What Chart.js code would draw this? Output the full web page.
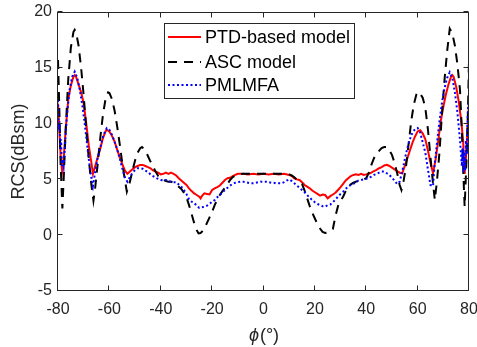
<!DOCTYPE html>
<html><head><meta charset="utf-8">
<script src="https://cdn.jsdelivr.net/npm/chart.js@4.4.1/dist/chart.umd.min.js"></script>
<style>html,body{margin:0;padding:0;background:#fff}canvas{display:block}</style>
</head><body>
<canvas id="c" width="477" height="347"></canvas>
<script>
// ---- data ----
const seriesNames = ['PTD-based model', 'ASC model', 'PMLMFA'];
const xTicks = [-80, -60, -40, -20, 0, 20, 40, 60, 80];
const yTicks = [-5, 0, 5, 10, 15, 20];

const ptdX = [-80,-79.5,-79,-78.4,-77.8,-77,-76,-75,-74,-73.5,-73,-72,-71,-70,-69,-68,-67,-66.4,-65.5,-64.5,-63.5,-62.5,-61.5,-61,-60,-59,-58,-57,-56,-55,-54,-53,-52,-51,-50,-49,-48,-47,-46,-45,-44,-43,-42,-41,-40,-39,-38,-37,-36,-35,-34,-33,-32,-31,-30,-29,-28,-27,-26,-25,-24.5,-24,-23,-22,-21,-20,-19,-18,-17,-16,-15,-14,-13,-12,-11,-10,-8,-6,-4,-2,0,2,4,6,8,10,11,12,13,14,15,16,17,18,19,20,21,22,23,24,25,26,27,28,29,30,31,32,33,34,35,36,37,38,39,40,41,42,43,44,45,46,47,48,49,50,51,52,53,54,55,56,57,58,59,60,61,62,63,64,65,66,67,68,69,70,71,72,73,73.5,74,75,76,77,77.7,78.3,79,79.5,80];
const ptdY = [11.8,9.5,7.2,5.7,6.8,9.5,12.2,13.4,14.2,14.35,14.2,13.5,12.8,11.8,10.0,8.0,6.5,5.5,6.2,7.0,7.8,8.7,9.3,9.45,9.3,8.9,8.4,7.7,7.0,6.4,5.8,5.5,5.7,5.9,6.1,6.2,6.3,6.3,6.2,6.1,6.0,5.8,5.7,5.6,5.45,5.5,5.6,5.5,5.6,5.5,5.35,5.1,4.9,4.7,4.5,4.2,3.95,3.75,3.6,3.45,3.3,3.5,3.75,3.7,3.65,4.05,4.2,4.3,4.45,4.7,4.95,5.1,5.15,5.3,5.4,5.5,5.5,5.45,5.5,5.45,5.5,5.45,5.5,5.45,5.5,5.4,5.3,5.1,5.0,4.95,4.75,4.5,4.35,4.2,4.0,3.85,3.7,3.55,3.65,3.6,3.3,3.5,3.65,3.8,4.05,4.3,4.6,4.9,5.1,5.3,5.4,5.45,5.4,5.5,5.4,5.45,5.5,5.6,5.75,5.85,6.0,6.1,6.25,6.3,6.2,6.05,5.9,5.75,5.6,5.55,6.2,6.9,7.6,8.3,8.85,9.3,9.4,9.1,8.6,7.6,6.5,5.55,6.8,8.4,10.2,11.5,12.6,13.5,14.2,14.35,14.2,13.3,12.0,10.2,8.5,5.5,7.5,9.8,12.0];

const ascX = [-80,-79.5,-79,-78.3,-77.7,-77,-76,-75,-74,-73.5,-73,-72,-71,-70,-69,-68,-67,-66.2,-65.5,-64.5,-63.5,-62.5,-61.5,-60.5,-60,-59,-58,-57,-56,-55,-54,-53.2,-52,-51,-50,-49,-48,-47.3,-46,-45,-44,-43,-42,-41,-40,-39,-38,-37,-36,-35,-34,-33,-32,-31,-30,-29,-28,-27,-26,-25.3,-24.5,-24,-23,-22,-21,-20,-19,-18,-17,-16,-15,-14,-13,-12,-11,-10,-8,-6,-4,-2,0,2,4,6,8,10,11,12,13,14,15,16,17,18,19,20,21,22,23,24,25,26,27,28,29,30,31,32,33,34,35,36,37,38,39,40,41,42,43,44,45,46,47,48,49,50,51,52,53,53.7,54.5,55.5,56.5,57.5,58.5,59.5,60.2,61,62,63,64,65,66,66.7,67.5,68.5,69.5,70.5,71.5,72.5,73.5,74.5,75.5,76.5,77.2,77.8,78.3,79,79.6,80];
const ascY = [15.7,11.5,6.5,2.4,5.5,9.5,14.0,16.8,18.2,18.4,18.2,17.0,15.0,12.5,9.5,6.8,4.5,3.1,4.3,6.5,8.8,10.8,12.2,12.8,12.75,12.2,11.2,9.8,8.2,6.5,5.0,3.9,4.8,5.8,6.7,7.4,7.8,7.9,7.6,7.1,6.6,6.15,5.7,5.3,5.0,4.95,4.85,4.8,4.8,4.7,4.55,4.35,4.15,3.8,3.4,2.7,1.9,1.1,0.45,0.17,0.2,0.3,0.6,1.1,1.6,2.1,2.7,3.2,3.6,3.95,4.25,4.6,4.95,5.2,5.35,5.45,5.5,5.5,5.5,5.5,5.5,5.5,5.5,5.5,5.5,5.45,5.35,5.2,4.95,4.75,4.6,4.0,3.3,2.6,2.0,1.5,1.0,0.6,0.3,0.2,0.25,0.35,0.55,1.7,2.6,3.1,3.45,3.95,4.35,4.55,4.7,4.8,4.85,4.95,5.0,5.1,5.6,6.3,6.9,7.3,7.55,7.8,7.9,7.9,7.6,7.2,6.5,5.6,4.5,4.05,4.8,6.2,8.2,10.2,11.7,12.6,12.85,12.7,12.3,11.4,9.5,7.0,4.6,3.15,4.8,7.4,11.0,14.0,16.5,18.5,18.1,17.0,15.3,13.0,9.5,5.5,2.55,6.5,11.2,15.7];

const pmlX = [-80,-79.7,-79.4,-79.1,-78.8,-78.5,-78.2,-77.8,-77.3,-76.5,-75.5,-74.5,-73.5,-72.5,-71.5,-70.5,-69.5,-68.5,-67.5,-66.4,-65.5,-64.5,-63.5,-62.5,-61.5,-61,-60,-59,-58,-57,-56,-55,-54,-53,-52,-51,-50,-49,-48,-47,-46,-45,-44,-43,-42,-41,-40,-39,-38,-37,-36,-35,-34,-33,-32,-31,-30,-29,-28,-27,-26,-25,-24,-23,-22,-21,-20,-19,-18,-17,-16,-15,-14,-13,-12,-11,-10,-9,-8,-7,-6,-5,-4,-3,-2,-1,0,1,2,3,4,5,6,7,8,9,10,11,12,13,14,15,16,17,18,19,20,21,22,23,24,25,26,27,28,29,30,31,32,33,34,35,36,37,38,39,40,41,42,43,44,45,46,47,48,49,50,51,52,53,54,55,56,57,58,59,60,61,62,63,64,65,66,66.5,67.5,68.5,69.5,70.5,71.5,72.5,73.5,74.5,75.5,76.5,77.2,77.6,77.9,78.2,78.5,78.8,79.1,79.4,79.7,80];
const pmlY = [12.1,9.5,10.2,7.8,8.6,6.2,6.8,6.2,8.0,10.8,13.0,14.2,14.65,14.1,13.0,11.6,9.8,7.8,5.8,4.4,5.7,7.0,7.9,8.8,9.4,9.6,9.45,9.0,8.4,7.7,6.9,6.0,5.2,4.8,5.2,5.6,5.85,6.0,6.0,5.95,5.8,5.65,5.45,5.3,5.15,5.05,4.95,4.9,4.95,4.85,4.8,4.75,4.75,4.55,4.35,4.05,3.7,3.2,3.0,2.9,2.65,2.45,2.5,2.55,2.65,2.8,3.0,3.15,3.4,3.6,3.85,4.05,4.25,4.45,4.6,4.7,4.75,4.8,4.8,4.75,4.7,4.65,4.65,4.7,4.75,4.8,4.8,4.8,4.75,4.7,4.7,4.65,4.65,4.65,4.75,4.9,5.0,4.85,4.65,4.45,4.25,4.05,3.85,3.6,3.35,3.15,2.95,2.8,2.7,2.6,2.55,2.7,2.75,2.95,3.2,3.45,3.7,3.9,4.15,4.35,4.5,4.6,4.75,4.9,4.95,5.0,5.05,5.15,5.25,5.4,5.5,5.6,5.7,5.7,5.55,5.4,5.15,4.9,4.6,4.8,5.7,6.8,7.8,8.6,9.2,9.5,9.6,9.2,8.3,7.4,5.9,4.5,4.4,6.0,8.2,10.2,11.9,13.2,14.1,14.6,14.1,12.8,11.0,8.5,6.2,7.8,5.6,7.5,5.8,8.5,7.2,10.0,11.8];

// ---- drawing ----
const FONT = '"Liberation Sans", Arial, Helvetica, sans-serif';
const AX = '#262626';
const toPts = (xs, ys) => xs.map((v, i) => ({x: v, y: ys[i]}));

const boxPlugin = {
  id: 'box',
  afterDraw(chart) {
    const {ctx, chartArea: a, scales: {x, y}} = chart;
    ctx.save();
    ctx.strokeStyle = AX; ctx.lineWidth = 1;
    const L = Math.round(a.left) - 0.5, R = Math.round(a.right) - 0.5;
    const T = Math.round(a.top) + 0.5, B = Math.round(a.bottom) - 0.5;
    ctx.strokeRect(L, T, R - L, B - T);
    const tl = 5;
    ctx.beginPath();
    xTicks.forEach(v => {
      const p = Math.round(x.getPixelForValue(v)) - 0.5;
      ctx.moveTo(p, B); ctx.lineTo(p, B - tl);
      ctx.moveTo(p, T); ctx.lineTo(p, T + tl);
    });
    yTicks.forEach(v => {
      const p = Math.round(y.getPixelForValue(v)) - 0.5;
      ctx.moveTo(L, p); ctx.lineTo(L + tl, p);
      ctx.moveTo(R, p); ctx.lineTo(R - tl, p);
    });
    ctx.stroke();

    // x axis title: italic phi + (°)
    const cx = (a.left + a.right) / 2;
    ctx.fillStyle = AX;
    ctx.textBaseline = 'alphabetic';
    ctx.font = 'italic 18px ' + FONT;
    const phi = '\u03D5';
    const w1 = ctx.measureText(phi).width;
    ctx.font = '18px ' + FONT;
    const w2 = ctx.measureText('(°)').width;
    const sx = cx - (w1 + w2) / 2;
    ctx.font = 'italic 18px ' + FONT;
    ctx.textAlign = 'left';
    ctx.fillText(phi, sx, 341);
    ctx.font = '18px ' + FONT;
    ctx.fillText('(°)', sx + w1 + 1, 341);

    // legend
    const lx = 164.5, ly = 23.5, lw = 190, lh = 75;
    ctx.fillStyle = '#fff';
    ctx.fillRect(lx, ly, lw, lh);
    ctx.strokeStyle = AX; ctx.lineWidth = 1;
    ctx.strokeRect(lx, ly, lw, lh);
    const rows = [36.7, 61.7, 85];
    chart.data.datasets.forEach((ds, i) => {
      const yy = Math.round(rows[i]);
      ctx.save();
      ctx.strokeStyle = ds.borderColor;
      ctx.lineWidth = ds.borderWidth;
      ctx.setLineDash(ds.borderDash || []);
      ctx.beginPath();
      ctx.moveTo(168, yy); ctx.lineTo(201, yy);
      ctx.stroke();
      ctx.restore();
      ctx.fillStyle = '#000';
      ctx.font = '18px ' + FONT;
      ctx.textBaseline = 'middle';
      ctx.textAlign = 'left';
      ctx.fillText(seriesNames[i], 205, yy + 1);
    });
    ctx.restore();
  }
};

new Chart(document.getElementById('c'), {
  type: 'line',
  data: {
    datasets: [
      {label: seriesNames[0], data: toPts(ptdX, ptdY), borderColor: '#ff0000', borderWidth: 2, pointRadius: 0, tension: 0, order: 3},
      {label: seriesNames[1], data: toPts(ascX, ascY), borderColor: '#000000', borderWidth: 2, borderDash: [9, 7], pointRadius: 0, tension: 0, order: 2},
      {label: seriesNames[2], data: toPts(pmlX, pmlY), borderColor: '#0000ff', borderWidth: 2, borderDash: [2, 2.5], pointRadius: 0, tension: 0, order: 1}
    ]
  },
  options: {
    responsive: false, animation: false, devicePixelRatio: 1,
    layout: {padding: {left: 0, right: 8, top: 12, bottom: 0}},
    plugins: {legend: {display: false}, tooltip: {enabled: false}},
    scales: {
      x: {
        type: 'linear', min: -80, max: 80,
        grid: {display: false, drawTicks: false}, border: {display: false},
        ticks: {stepSize: 20, padding: 9, color: AX, font: {family: FONT, size: 16}, maxRotation: 0, autoSkip: false},
        afterBuildTicks: s => { s.ticks = xTicks.map(v => ({value: v})); },
        afterFit: s => { s.height = 56; s.paddingLeft = 0; s.paddingRight = 0; }
      },
      y: {
        min: -5, max: 20,
        grid: {display: false, drawTicks: false}, border: {display: false},
        ticks: {stepSize: 5, padding: 6, color: AX, font: {family: FONT, size: 16}},
        afterBuildTicks: s => { s.ticks = yTicks.map(v => ({value: v})); },
        title: {display: true, text: 'RCS(dBsm)', color: AX, font: {family: FONT, size: 18}, padding: {top: 8, bottom: 0}},
        afterFit: s => { s.width = 58; s.paddingTop = 0; s.paddingBottom = 0; }
      }
    }
  },
  plugins: [boxPlugin]
});
</script>
</body></html>
